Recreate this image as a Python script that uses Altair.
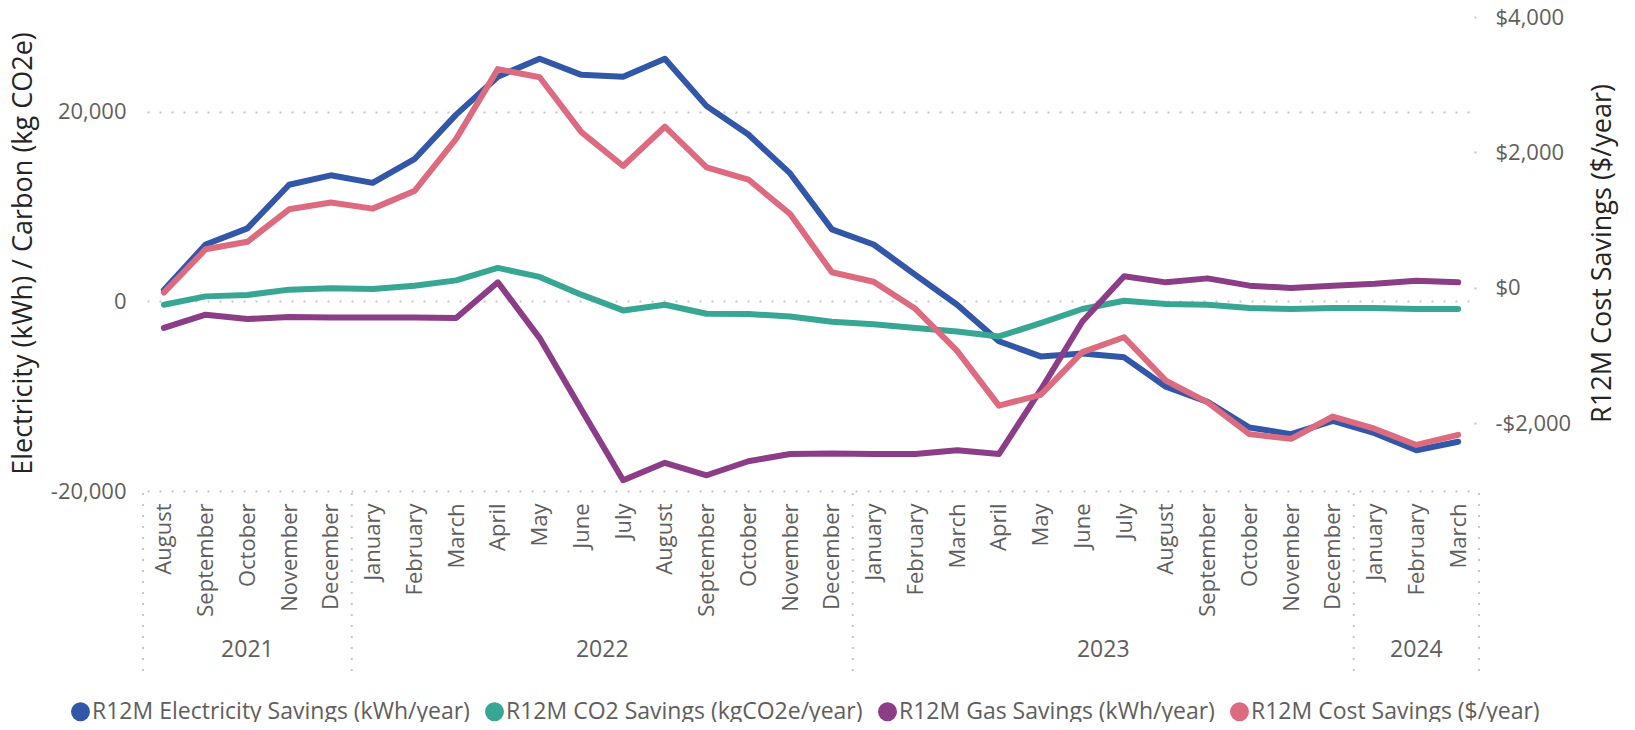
import altair as alt
import pandas as pd

# ---------------- data ----------------
month_names = [
    "August", "September", "October", "November", "December",
    "January", "February", "March", "April", "May", "June", "July",
    "August", "September", "October", "November", "December",
    "January", "February", "March", "April", "May", "June", "July",
    "August", "September", "October", "November", "December",
    "January", "February", "March",
]
year_of_month = ["2021"] * 5 + ["2022"] * 12 + ["2023"] * 12 + ["2024"] * 3

electricity = [1200, 6000, 7700, 12300, 13300, 12500, 15000, 19700, 23700, 25600,
               23900, 23700, 25600, 20600, 17600, 13500, 7600, 6000, 2800, -350,
               -4200, -5800, -5500, -5900, -9000, -10600, -13300, -14000, -12600,
               -13900, -15700, -14800]
co2 = [-350, 530, 680, 1240, 1380, 1310, 1660, 2220, 3530, 2580, 710, -950, -350,
       -1300, -1330, -1590, -2150, -2400, -2800, -3170, -3700, -2290, -800, 70,
       -280, -350, -700, -800, -700, -700, -800, -800]
gas = [-2800, -1400, -1860, -1650, -1690, -1690, -1690, -1760, 2010, -3870, -11400,
       -18870, -17030, -18340, -16860, -16100, -16040, -16100, -16100, -15700,
       -16100, -9340, -2120, 2650, 2010, 2430, 1660, 1420, 1660, 1870, 2190, 2010]
cost = [-70, 570, 680, 1160, 1260, 1170, 1430, 2200, 3230, 3110, 2300, 1800, 2380,
        1780, 1600, 1090, 230, 90, -310, -930, -1740, -1580, -950, -730, -1370,
        -1690, -2160, -2230, -1900, -2080, -2320, -2170]

S_E = "R12M Electricity Savings (kWh/year)"
S_C = "R12M CO2 Savings (kgCO2e/year)"
S_G = "R12M Gas Savings (kWh/year)"
S_D = "R12M Cost Savings ($/year)"
series_names = [S_E, S_C, S_G, S_D]
series_colors = ["#3257A8", "#37A794", "#8B3D88", "#DD6B7F"]

left_ticks = [-20000, 0, 20000]
right_ticks = [-2000, 0, 2000, 4000]

# ---------------- tables ----------------
keys = [f"{m} {y}" for m, y in zip(month_names, year_of_month)]

rows = []
for name, vals in [(S_E, electricity), (S_C, co2), (S_G, gas)]:
    for i, v in enumerate(vals):
        rows.append({"key": keys[i], "idx": i, "series": name, "value": v})
df_left = pd.DataFrame(rows)
df_cost = pd.DataFrame({"key": keys, "idx": list(range(len(keys))),
                        "series": S_D, "value": cost})
df_series = pd.DataFrame({"series": series_names})

df_m = pd.DataFrame({"year": year_of_month, "idx": list(range(len(keys)))})
g = df_m.groupby("year")["idx"]
df_years = pd.DataFrame({"year": g.mean().index, "mid": g.mean().values})
seps = sorted(set(list(g.min().values - 0.5) + list(g.max().values + 0.5)))
df_seps = pd.DataFrame({"pos": seps})

FONT = "Open Sans"
LABEL_C = "#605E5C"
TITLE_C = "#252423"
GRID_C = "#C8C6C4"

W, H = 1336, 474

x_enc = alt.X(
    "key:N",
    sort=keys,
    scale=alt.Scale(type="point", domain=keys, padding=0.5),
    axis=alt.Axis(
        title=None, labelExpr="split(datum.label, ' ')[0]", labelAngle=270,
        labelAlign="right", labelBaseline="middle", labelPadding=12,
        ticks=False, tickSize=0, domain=False, grid=False, labelOverlap=False,
        labelFont=FONT, labelFontSize=22, labelColor=LABEL_C,
    ),
)

color_scale = alt.Scale(domain=series_names, range=series_colors)
legend_def = alt.Legend(
    title=None, orient="none", direction="horizontal", legendX=-74,
    legendY=683, symbolType="circle", symbolSize=361, symbolStrokeWidth=0,
    symbolOpacity=1, labelFont=FONT, labelFontSize=23, labelColor=LABEL_C,
    labelLimit=0, columnPadding=13, labelOffset=0,
)
color_enc = alt.Color("series:N", scale=color_scale, legend=legend_def)

line_props = dict(strokeWidth=6, strokeCap="round", strokeJoin="round")

# invisible filled-point layer: gives the legend its filled circles
legend_layer = alt.Chart(df_series).mark_circle(opacity=0).encode(color=color_enc)

lines_left = alt.Chart(df_left).mark_line(**line_props).encode(
    x=x_enc,
    y=alt.Y(
        "value:Q",
        scale=alt.Scale(domain=[-20000, 30000], nice=False, zero=False),
        axis=alt.Axis(
            values=left_ticks, title="Electricity (kWh) / Carbon (kg CO2e)",
            labelExpr="(datum.value < 0 ? '-' : '') + format(abs(datum.value), ',')",
            grid=True, gridDash=[2, 10], gridDashOffset=8, gridColor=GRID_C,
            gridWidth=2, domain=False, ticks=False, tickSize=0, labelPadding=17,
            labelFont=FONT, labelFontSize=22, labelColor=LABEL_C,
            titleFont=FONT, titleFontSize=27, titleFontWeight="normal",
            titleColor=TITLE_C, titleAngle=270, titleBaseline="middle",
            titleAlign="center", titleX=-120, titleY=236,
        ),
    ),
    color=color_enc,
    order=alt.Order("idx:Q"),
)

line_cost = alt.Chart(df_cost).mark_line(**line_props).encode(
    x=x_enc,
    y=alt.Y(
        "value:Q",
        scale=alt.Scale(domain=[-3000, 4000], nice=False, zero=False),
        axis=alt.Axis(
            orient="right", values=right_ticks, title="R12M Cost Savings ($/year)",
            labelExpr="(datum.value < 0 ? '-$' : '$') + format(abs(datum.value), ',')",
            grid=False, domain=False, ticks=True, tickSize=2, tickWidth=2,
            tickColor=GRID_C, offset=-5, labelPadding=19,
            labelFont=FONT, labelFontSize=22, labelColor=LABEL_C,
            titleFont=FONT, titleFontSize=27, titleFontWeight="normal",
            titleColor=TITLE_C, titleAngle=270, titleBaseline="middle",
            titleAlign="center", titleX=128, titleY=236,
        ),
    ),
    color=color_enc,
    order=alt.Order("idx:Q"),
)

xq = alt.Scale(domain=[-0.5, len(keys) - 0.5], nice=False, zero=False)

year_text = alt.Chart(df_years).mark_text(
    font=FONT, fontSize=23, color=LABEL_C, align="center", baseline="middle"
).encode(
    x=alt.X("mid:Q", scale=xq, axis=None),
    y=alt.value(633),
    text="year:N",
)

sep_rules = alt.Chart(df_seps).mark_rule(
    color=GRID_C, strokeWidth=2, strokeDash=[2, 9]
).encode(
    x=alt.X("pos:Q", scale=xq, axis=None),
    y=alt.value(476),
    y2=alt.value(654),
)

lines = alt.layer(lines_left, line_cost).resolve_scale(y="independent")
deco = alt.layer(sep_rules, year_text)

chart = alt.layer(legend_layer, lines, deco).resolve_scale(x="independent").properties(
    width=W, height=H,
    padding={"left": 135, "top": 9, "right": 140, "bottom": 231},
    autosize=alt.AutoSizeParams(type="none"),
    background="white",
).configure_view(stroke=None)

chart.save("out.html", embed_options={"renderer": "svg", "actions": False})
